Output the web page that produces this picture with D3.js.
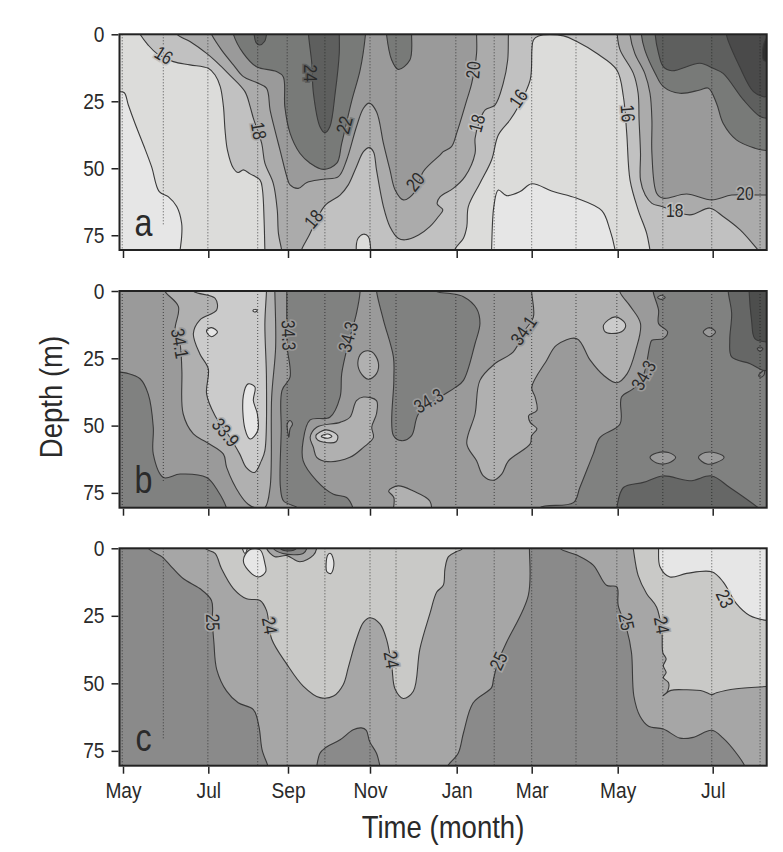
<!DOCTYPE html>
<html>
<head>
<meta charset="utf-8">
<script src="https://cdn.jsdelivr.net/npm/d3@7"></script>
<style>
  body { margin: 0; background: #fff; }
  text { font-family: "Liberation Sans", sans-serif; fill: #2a2a2a; }
</style>
</head>
<body>
<svg width="783" height="852"></svg>
<script>
var monthTicks = [0, 2, 4, 6, 8, 10, 12, 14]
var monthNames = ['May', 'Jul', 'Sep', 'Nov', 'Jan', 'Mar', 'May', 'Jul']
var depthTicks = [0, 25, 50, 75]
var stations = [-0.02, 1.99, 3.24, 3.98, 4.9, 6, 6.6, 7.98, 9, 10, 11.03, 11.98, 12.95, 13.98, 15]
var shortStation = 0.945

// panel a, temperature
var a14left = [[-1,21],[-0.11,21.4],[0.03,21.8],[0.125,26.4],[0.28,33.2],[0.48,41.3],[0.67,49.4],[0.85,58.7],[1.06,60.6],[1.26,64.3],[1.375,70.5],[1.375,75.5],[1.34,80.5],[1.32,84],[-1,84]]
var a16left = [[0.3,-3],[0.4,0],[0.59,4],[0.79,7.1],[1.18,10.2],[1.57,11.4],[2,12.7],[2.17,15.2],[2.3,19.5],[2.38,27],[2.42,35.7],[2.48,43.2],[2.63,50],[2.75,51.6],[2.88,50.6],[3.05,52.1],[3.3,54.4],[3.36,58.1],[3.4,69.3],[3.42,80.5],[3.43,84],[-1,84],[-1,-3]]
var a16blob = [[5.67,84],[5.67,78.2],[5.71,76.1],[5.84,74.6],[5.96,75.5],[6.02,81],[6.02,84]]
var a16mar = [[7.9,84],[7.96,80.2],[8.18,76.1],[8.27,71.8],[8.31,64.3],[8.62,55.6],[8.93,46.9],[9.11,37.6],[9.42,32],[9.64,27],[9.96,17],[10.04,2.1],[10.16,0.6],[10.74,0.6],[11.05,2.7],[11.51,7.1],[11.98,13.3],[12.12,23.3],[12.19,36.9],[12.26,54.4],[12.43,65.5],[12.61,74.3],[12.68,80.5],[12.72,84]]
var a14mar = [[8.92,84],[8.93,80.5],[8.99,64.3],[9.11,58.1],[9.33,60.2],[9.69,58.7],[10,55.8],[10.5,58.7],[11.05,61.2],[11.63,65.8],[11.82,73],[11.94,80.5],[11.97,84]]
var a18main = [[1.2,-3],[1.27,0],[1.57,2.7],[1.96,7.1],[2.17,9.8],[2.54,15.2],[2.92,21.4],[3.05,27],[3.13,31.3],[3.34,40.7],[3.42,48.1],[3.63,55.6],[3.73,65.5],[3.76,74.3],[3.84,80.5],[3.87,84],[4.3,84],[4.33,80.5],[4.5,75.5],[4.9,63.9],[5.27,60],[5.47,56.2],[5.67,49.4],[5.84,43.8],[5.98,42.3],[6.08,43.8],[6.15,50.6],[6.31,64.3],[6.46,71.8],[6.65,76.1],[6.81,76.7],[7.12,74.9],[7.38,71.8],[7.58,68],[7.68,65.5],[7.55,63.3],[7.62,60.6],[7.92,57.5],[8.22,53.1],[8.49,44.4],[8.49,38.8],[8.62,32],[8.76,28.2],[9.02,26.4],[9.24,18.3],[9.36,9.6],[9.38,0],[9.4,-3]]
var a18right = [[11.99,-3],[11.99,0.2],[12.05,5.8],[12.33,14.6],[12.43,22],[12.45,32],[12.48,44.4],[12.48,54.4],[12.58,60],[12.72,63.1],[12.93,64.3],[13.52,67.4],[13.94,64.9],[14.22,68],[14.58,73],[14.96,80.5],[15.14,84],[16,84],[16,-3]]
var a20main = [[2,-3],[2.08,0],[2.33,5.8],[2.63,11.4],[2.88,15.8],[3.21,18],[3.46,20.1],[3.55,28.2],[3.67,35.7],[3.8,43.2],[3.97,53.1],[4.05,56.2],[4.25,57.5],[4.46,55.3],[4.86,54.1],[5.23,53.1],[5.43,46.9],[5.67,34.5],[5.84,27.6],[5.98,25.7],[6.15,28.9],[6.31,40.7],[6.46,50.6],[6.58,58.1],[6.77,61.8],[7.04,58.7],[7.23,51.2],[7.62,45],[7.69,43.8],[7.88,41.9],[8,36.9],[8.27,24.5],[8.4,18.3],[8.53,7.1],[8.53,0],[8.53,-3]]
var a20right = [[12.26,-3],[12.26,0.2],[12.36,7.1],[12.57,14.6],[12.68,22],[12.72,32],[12.72,44.4],[12.82,59.3],[12.96,61.2],[13.45,59.6],[13.98,61.8],[14.4,60],[15,60],[15.14,60],[16,60],[16,-3]]
var a22main = [[2.6,-3],[2.63,0],[2.88,7.1],[3.21,12.1],[3.71,13.9],[3.88,15.8],[3.92,27],[4.05,36.9],[4.29,44.4],[4.54,48.1],[4.86,50.4],[5.19,48.1],[5.31,40.7],[5.56,24.5],[5.76,13.3],[5.89,0],[5.9,-3]]
var a22blob = [[6.37,-3],[6.38,0],[6.5,9.6],[6.65,13.1],[6.92,9.6],[6.96,0],[6.96,-3]]
var a22right = [[12.5,-3],[12.5,0.2],[12.57,5.8],[12.79,14.6],[12.96,19.5],[13.31,22],[13.73,20.8],[13.91,20.1],[14.08,25.7],[14.22,33.2],[14.5,39.4],[14.89,42.5],[15.14,43.4],[16,43.4],[16,-3]]
var a24top = [[3.15,-3],[3.15,0],[3.2,3.1],[3.29,4],[3.41,2.7],[3.46,0],[3.46,-3]]
var a24main = [[4.5,-3],[4.5,0],[4.58,10.8],[4.62,22],[4.78,34.5],[4.9,36.7],[5.02,34.5],[5.15,22],[5.25,7.1],[5.25,0],[5.25,-3]]
var a24right = [[12.79,-3],[12.79,0.2],[12.86,7.1],[12.96,12.1],[13.14,13.6],[13.73,10.8],[14.01,12.7],[14.22,14.6],[14.65,24.5],[15,30.7],[15.14,31.3],[16,31.3],[16,-3]]
var a26right = [[14.29,-3],[14.29,0.2],[14.57,12.1],[14.86,21.4],[15.07,23.3],[15.14,23.3],[16,23.3],[16,-3]]
var a28right = [[15.15,0.9],[15.07,4],[15.07,9.6],[15.15,10.2],[16,10.2],[16,0.9]]

// panel b, salinity
var b343left = [[-1,30],[-0.09,30.1],[0.09,30.5],[0.4,32.6],[0.59,38.2],[0.71,50.6],[0.71,60.6],[0.95,69.3],[1.34,68],[1.96,69.3],[2.24,74.3],[2.46,80.8],[2.49,84],[4.25,84],[4.25,80.8],[3.89,78],[3.81,73],[3.83,51.9],[3.85,36.9],[4.05,32],[3.98,20.8],[3.97,10.8],[3.97,0],[3.97,-3],[-1,-3]]
var b343loop = [[3.98,49.4],[4.05,48.1],[4.11,49.4],[4.05,51.2],[4.02,54.4],[3.99,51.9]]
var b343mid = [[5.76,-3],[5.76,0],[5.67,8.3],[5.47,19.5],[5.31,30.7],[5.27,39.4],[5.02,46.9],[4.54,47.9],[4.37,55.6],[4.37,63.1],[4.7,70.5],[5.11,75.5],[5.43,76.7],[5.59,80.8],[5.62,84],[10.12,84],[10.19,80.5],[10.97,78.6],[11.12,73],[11.43,60.6],[11.59,54.4],[12.05,49.4],[12.08,39.4],[12.33,36.3],[12.54,31.3],[12.68,20.1],[12.72,18.3],[12.96,17.7],[13.05,15.2],[12.86,12.1],[12.86,7.1],[12.75,0.5],[12.74,-3]]
var b343lobe = [[6.15,-3],[6.15,0],[6.31,10.8],[6.54,24.5],[6.55,33.2],[6.54,53.7],[6.73,55.6],[6.96,53.7],[7.12,45.6],[7.62,39.4],[7.96,35.9],[8.18,33.2],[8.49,19.5],[8.62,12.1],[8.53,6.5],[8.18,2.1],[7.85,0.9],[7.54,0.2],[7.4,-3]]
var b343eyeA = [[12.68,61.8],[12.82,60.2],[13.07,60],[13.22,61.8],[13.07,63.9],[12.82,63.9]]
var b343eyeB = [[13.7,61.8],[13.84,60],[14.08,60.2],[14.24,61.8],[14.08,63.7],[13.88,64.3]]
var b343ring = [[13.8,15.2],[13.93,13.6],[14.06,15.2],[13.93,17]]
var b343dot = [[12.84,2.4],[12.92,1.6],[13,2.4],[12.92,3.1]]
var b345right = [[14.33,-3],[14.33,0.5],[14.4,8.3],[14.36,18.3],[14.4,24.5],[14.79,27],[15.07,29.5],[15.2,29.5],[16,29.5],[16,-3]]
var b345floor = [[11.96,84],[11.98,80.5],[12.12,73],[12.54,71.1],[12.96,68.7],[13.52,70.5],[13.98,68.7],[14.36,73],[14.96,80.5],[15.2,84]]
var b347right = [[14.77,-3],[14.77,0.5],[14.82,10.8],[14.89,17.7],[15.12,18.9],[16,19],[16,-3]]
var b345ring = [[14.94,21.5],[15,20.8],[15.06,21.5],[15,22.3]]
var b345leaf = [[14.97,31.3],[15.09,29.5],[15.08,31.3],[15,32]]
var b341left = [[0.95,-3],[0.98,0],[1.3,5.8],[1.22,14.6],[1.34,20.1],[1.38,29.5],[1.41,45.6],[1.65,53.1],[1.96,56.2],[2.38,60.6],[2.46,65.5],[2.79,75.5],[3,79.2],[3.21,80.7],[3.42,80.5],[3.55,73],[3.59,39.4],[3.69,20.8],[3.67,0],[3.67,-3]]
var b341big = [[10,-3],[10,0.5],[10.04,9.6],[9.82,14.6],[9.51,22.6],[9.02,27],[8.62,33.2],[8.49,45.6],[8.27,56.8],[8.53,63.1],[8.71,68.7],[8.98,70.3],[9.2,68],[9.38,63.1],[9.96,56.8],[10,53.7],[10.12,51.2],[9.96,48.8],[9.92,46.3],[10.12,44.4],[10.08,39.4],[10,35.8],[10.35,25.7],[10.58,20.1],[11.05,17.7],[11.36,25.7],[11.67,31.3],[11.98,34.1],[12.2,30.7],[12.38,22],[12.48,12.1],[12.27,5.8],[12.05,0.5],[12.03,-3]]
var b341oval = [[5.71,25.7],[5.84,22.6],[6.04,22.6],[6.19,26.4],[6.15,30.7],[5.96,32.8],[5.76,30.1]]
var b341mid = [[4.54,54.4],[4.7,50.6],[5.27,48.8],[5.51,46.9],[5.67,40.7],[5.84,39.4],[6.15,40.7],[6.15,45.6],[6.04,50.6],[6.08,54.4],[5.84,58.1],[5.51,61.8],[4.97,63.4],[4.7,61.8],[4.62,58.1]]
var b341floor = [[6.5,84],[6.55,76.7],[6.43,74.3],[6.65,72.4],[7,74.3],[7.38,78],[7.42,84]]
var b339core = [[1.6,-3],[1.65,0],[2.17,2.7],[2.21,7.1],[1.8,10.8],[1.65,15.8],[1.8,23.3],[2,28.9],[1.96,38.2],[2.17,46.3],[2.46,52.5],[2.79,60.6],[2.95,65.5],[3.16,67.4],[3.33,63.1],[3.42,59.3],[3.46,33.2],[3.42,12.1],[3.46,0],[3.46,-3]]
var b339oval = [[4.68,53.7],[4.93,51.6],[5.21,53.7],[5.17,56],[4.88,56.2],[4.72,55.3]]
var b339patch = [[11.67,12.7],[11.94,9.6],[12.16,12.1],[12.12,14.6],[11.86,15.8],[11.71,15.2]]
var b337long = [[2.88,38.8],[3,34.5],[3.17,35.7],[3.13,40.7],[3.23,45.6],[3.24,51.9],[3.05,55],[2.92,51.2]]
var b337small = [[1.96,14.6],[2.08,13.6],[2.23,15.2],[2.08,17],[1.98,15.8]]
var b337tiny = [[3.12,7.3],[3.17,6.8],[3.23,7.3],[3.17,7.8]]
var b337eye = [[4.81,54],[4.97,53.1],[5.07,54],[4.97,54.7]]

// panel c, density
var c25left = [[0.55,-3],[0.59,0],[0.91,3.1],[1.1,6.2],[1.41,11.2],[1.8,14.9],[2.08,19.3],[2.1,27],[2.14,34.8],[2.21,44.8],[2.46,52.9],[2.75,57.2],[3.13,59.7],[3.27,65.9],[3.35,74.6],[3.5,80.8],[3.55,84],[-1,84],[-1,-3]]
var c25floor = [[4.68,84],[4.7,80.8],[4.78,75.9],[4.9,74],[5.27,70.9],[5.59,67.2],[5.79,66.5],[5.91,67.4],[5.99,71.5],[6.15,75.9],[6.23,80.8],[6.26,84]]
var c25right = [[7.7,84],[7.78,80.8],[8.04,75.9],[8.18,68.4],[8.44,57.2],[8.93,51.6],[8.98,48.5],[9.11,41.7],[9.33,34.8],[9.91,17.4],[9.94,0.4],[9.94,-3],[10.66,-3],[10.66,0],[11.05,2.5],[11.43,6.2],[11.74,13.7],[11.98,14.3],[12.01,21.1],[12.19,29.9],[12.29,38.6],[12.34,54.7],[12.47,62.2],[12.65,65.9],[12.96,66.9],[13.31,70.3],[13.59,70],[13.98,67.4],[14.22,70.3],[14.5,75.9],[14.68,80.8],[14.7,84]]
var c24main = [[1.9,-3],[1.92,0],[2.17,1.9],[2.33,7.5],[2.63,14.9],[2.96,18.7],[3.3,19.3],[3.46,23],[3.59,33.6],[3.97,42.9],[4.37,51],[4.78,55.3],[5.11,54.7],[5.35,50.4],[5.47,44.2],[5.67,33.6],[5.84,27.4],[6,25.7],[6.23,28],[6.38,33.6],[6.5,43.5],[6.58,52.2],[6.77,55.6],[7,52.9],[7.15,37.3],[7.38,24.3],[7.54,16.2],[7.69,13.7],[7.73,7.5],[7.81,3.1],[8,1.2],[8.13,0.4],[8.2,-3]]
var c24right = [[12.3,-3],[12.33,0.4],[12.43,10],[12.61,16.8],[12.82,21.8],[12.93,31.1],[12.95,38.6],[13.02,41],[12.96,43.5],[13.02,46],[12.96,47.9],[13.07,49.8],[13.05,52.9],[12.96,54.5],[13.12,52.6],[13.45,52.4],[13.8,52.9],[13.98,54.2],[14.08,53.5],[14.5,52],[15.14,51.2],[16,51],[16,-3]]
var c23right = [[12.86,-3],[12.86,0.4],[12.89,6.8],[13.1,10.6],[13.45,9.3],[13.98,8.7],[14.22,12.4],[14.5,20.5],[14.78,24.9],[15.14,26.7],[16,26.7],[16,-3]]
var c23blob = [[2.88,4.4],[3.03,0.6],[3.3,0.6],[3.42,5.6],[3.44,8.7],[3.26,10.6],[3,8.1]]
var c23nick = [[2.83,-1],[2.92,1.9],[3,-1]]
var c23slit = [[4.97,2.5],[5.04,1.9],[5.12,5.6],[5.05,9.3],[4.95,8.7]]
var c25cap = [[3.46,-3],[3.46,0],[3.67,3.1],[3.97,2.7],[4.29,5],[4.62,2.5],[4.7,0],[4.7,-3]]
var c26cap = [[3.63,-3],[3.63,0],[3.87,1.9],[4.37,1.9],[4.46,0],[4.46,-3]]
var c27cap = [[3.8,-3],[3.8,0],[4.01,1],[4.21,0],[4.21,-3]]

// [month, depth, contour level, text angle, gray class for the halo]
var labelsA = [[0.96,7.7,'16',32,17],[3.27,36,'18',80,19],[4.55,14.5,'24',90,25],[5.37,33.8,'22',-75,23],[7.04,55,'20',-50,21],[4.62,68.9,'18',-50,19],[8.43,13.3,'20',-85,19],[8.53,33.2,'18',-75,17],[9.64,23.9,'16',-55,17],[12.22,29.5,'16',85,17],[13.2,65.8,'18',0,17],[14.68,59.3,'20',0,19]]
var labelsB = [[1.34,19.5,'34.1',80,34.2],[2.44,52.5,'33.9',50,34],[4.02,16.4,'34.3',88,34.2],[5.46,17,'34.3',-75,34.2],[7.35,40.7,'34.3',-30,34.2],[9.78,14.6,'34.1',-55,34.2],[12.54,31.3,'34.3',-60,34.2]]
var labelsC = [[2.12,27.4,'25',88,24.5],[3.55,28.6,'24',80,24.5],[6.5,41.3,'24',80,24.5],[9.11,41.7,'25',-65,24.5],[12.19,27.1,'25',78,24.5],[12.93,28.4,'24',80,24.5],[14.26,18.7,'23',65,23.5]]

var panels = [
  { name: 'a', top: 34.3, bottom: 250, base: 17,
    breaks: [14, 16, 18, 20, 22, 24, 26, 28],
    grays: ['#e6e6e6', '#dcdcda', '#c1c1c1', '#ababab', '#9a9a9a', '#787a78', '#5e5f5e', '#4a4a4a', '#303030'],
    layers: [[15,a16left],[15,a16mar],[15,a16blob],[13,a14left],[13,a14mar],[19,a18main],[19,a18right],[21,a20main],[21,a20right],[23,a22main],[23,a22blob],[23,a22right],[25,a24top],[25,a24main],[25,a24right],[27,a26right],[29,a28right]],
    labels: labelsA },
  { name: 'b', top: 291, bottom: 507.7, base: 34.4,
    breaks: [33.7, 33.9, 34.1, 34.3, 34.5, 34.7],
    grays: ['#e6e6e6', '#cbcbcb', '#b0b0b0', '#9a9a9a', '#808180', '#666766', '#4d4e4d'],
    layers: [[34.2,b343left],[34.2,b343loop],[34.2,b343mid],[34.4,b343lobe],[34.2,b343eyeA],[34.2,b343eyeB],[34.2,b343ring],[34.2,b343dot],[34.6,b345right],[34.6,b345floor],[34.8,b347right],[34.4,b345ring],[34.4,b345leaf],[34,b341left],[34,b341big],[34,b341oval],[34,b341mid],[34,b341floor],[33.8,b339core],[33.8,b339oval],[33.8,b339patch],[33.6,b337long],[33.6,b337small],[33.6,b337tiny],[33.6,b337eye]],
    labels: labelsB },
  { name: 'c', top: 548.3, bottom: 765.7, base: 24.5,
    breaks: [23, 24, 25, 26],
    grays: ['#e6e6e6', '#c9c9c7', '#a6a6a6', '#8a8a8a', '#5f5f5f'],
    layers: [[25.5,c25left],[25.5,c25floor],[25.5,c25right],[23.5,c24main],[23.5,c24right],[22.5,c23right],[22.5,c23blob],[22.5,c23nick],[22.5,c23slit],[24.5,c25cap],[25.5,c26cap],[26.5,c27cap]],
    labels: labelsC }
]

var svg = d3.select('svg')

var x = d3.scaleLinear()
  .domain([-0.09, 0, 2, 4, 6, 8, 10, 12, 14, 15.14])
  .range([119.5, 123, 208.3, 288, 370, 456.7, 531.7, 617.7, 712.7, 766.7])

// no condensed face is installed, so squeeze the regular one
function narrow (sel, k) {
  sel.each(function () {
    d3.select(this)
      .attr('textLength', this.getComputedTextLength() * k)
      .attr('lengthAdjust', 'spacingAndGlyphs')
  })
}

// contours that stay inside the frame are real loops, the rest run off the edge
function isLoop (pts) {
  return d3.min(pts, function (d) { return d[1] }) >= 0 &&
    d3.max(pts, function (d) { return d[1] }) <= 80.5 &&
    d3.max(pts, function (d) { return d[0] }) <= 15.14
}

panels.forEach(function (p, i) {
  var y = d3.scaleLinear().domain([0, 80.5]).range([p.top, p.bottom])
  var gray = d3.scaleThreshold().domain(p.breaks).range(p.grays)

  var line = d3.line()
    .x(function (d) { return x(d[0]) })
    .y(function (d) { return y(d[1]) })
    .curve(d3.curveCatmullRom.alpha(0.5))

  var loop = d3.line()
    .x(function (d) { return x(d[0]) })
    .y(function (d) { return y(d[1]) })
    .curve(d3.curveCatmullRomClosed.alpha(0.5))

  var clipId = 'clip-' + p.name
  svg.append('clipPath').attr('id', clipId).append('rect')
    .attr('x', x.range()[0])
    .attr('y', p.top)
    .attr('width', x(15.14) - x.range()[0])
    .attr('height', p.bottom - p.top)

  var g = svg.append('g').attr('clip-path', 'url(#' + clipId + ')')

  g.append('rect')
    .attr('x', x.range()[0])
    .attr('y', p.top)
    .attr('width', x(15.14) - x.range()[0])
    .attr('height', p.bottom - p.top)
    .attr('fill', gray(p.base))

  g.selectAll('path.region')
    .data(p.layers)
    .enter().append('path')
    .attr('class', 'region')
    .attr('d', function (d) { return isLoop(d[1]) ? loop(d[1]) : line(d[1]) + 'Z' })
    .attr('fill', function (d) { return gray(d[0]) })
    .attr('stroke', '#3a3a3a')
    .attr('stroke-width', 1.1)
    .attr('stroke-linejoin', 'round')

  g.selectAll('line.station')
    .data(stations)
    .enter().append('line')
    .attr('class', 'station')
    .attr('x1', function (d) { return x(d) })
    .attr('x2', function (d) { return x(d) })
    .attr('y1', p.top)
    .attr('y2', p.bottom)
    .attr('stroke', '#222')
    .attr('stroke-width', 1)
    .attr('stroke-dasharray', '1 2')
    .attr('opacity', 0.75)

  g.append('line')
    .attr('x1', x(shortStation))
    .attr('x2', x(shortStation))
    .attr('y1', p.top)
    .attr('y2', y(71))
    .attr('stroke', '#222')
    .attr('stroke-dasharray', '1 2')
    .attr('opacity', 0.75)

  g.selectAll('text.level')
    .data(p.labels)
    .enter().append('text')
    .attr('class', 'level')
    .attr('transform', function (d) { return 'translate(' + x(d[0]) + ',' + y(d[1]) + ') rotate(' + d[3] + ')' })
    .attr('text-anchor', 'middle')
    .attr('dy', '0.36em')
    .attr('font-size', 19)
    .attr('paint-order', 'stroke')
    .attr('stroke', function (d) { return gray(d[4]) })
    .attr('stroke-width', 3.5)
    .text(function (d) { return d[2] })
    .call(narrow, 0.82)

  g.append('text')
    .attr('x', x(0.48))
    .attr('y', y(70))
    .attr('dy', '0.36em')
    .attr('text-anchor', 'middle')
    .attr('font-size', 38)
    .text(p.name)
    .call(narrow, 0.85)

  svg.append('rect')
    .attr('x', x.range()[0])
    .attr('y', p.top)
    .attr('width', x(15.14) - x.range()[0])
    .attr('height', p.bottom - p.top)
    .attr('fill', 'none')
    .attr('stroke', '#222')
    .attr('stroke-width', 2)

  var xAxis = d3.axisBottom(x)
    .tickValues(monthTicks)
    .tickSize(7)
    .tickSizeOuter(0)
    .tickPadding(9)
    .tickFormat(function (d, j) { return i === 2 ? monthNames[j] : '' })

  var gx = svg.append('g')
    .attr('transform', 'translate(0,' + (p.bottom + 1) + ')')
    .call(xAxis)
  gx.select('.domain').remove()
  gx.selectAll('line').attr('stroke', '#222').attr('stroke-width', 1.5)
  gx.selectAll('text').attr('font-size', 22).call(narrow, 0.87)

  var yAxis = d3.axisLeft(y)
    .tickValues(depthTicks)
    .tickSize(7)
    .tickSizeOuter(0)
    .tickPadding(7)

  var gy = svg.append('g')
    .attr('transform', 'translate(' + (x.range()[0] - 1) + ',0)')
    .call(yAxis)
  gy.select('.domain').remove()
  gy.selectAll('line').attr('stroke', '#222').attr('stroke-width', 1.5)
  gy.selectAll('text').attr('font-size', 22).call(narrow, 0.87)
})

svg.append('text')
  .attr('x', 443)
  .attr('y', 838)
  .attr('text-anchor', 'middle')
  .attr('font-size', 32)
  .text('Time (month)')
  .call(narrow, 0.86)

svg.append('text')
  .attr('transform', 'translate(62,397) rotate(-90)')
  .attr('text-anchor', 'middle')
  .attr('font-size', 32)
  .text('Depth (m)')
  .call(narrow, 0.86)
</script>
</body>
</html>
